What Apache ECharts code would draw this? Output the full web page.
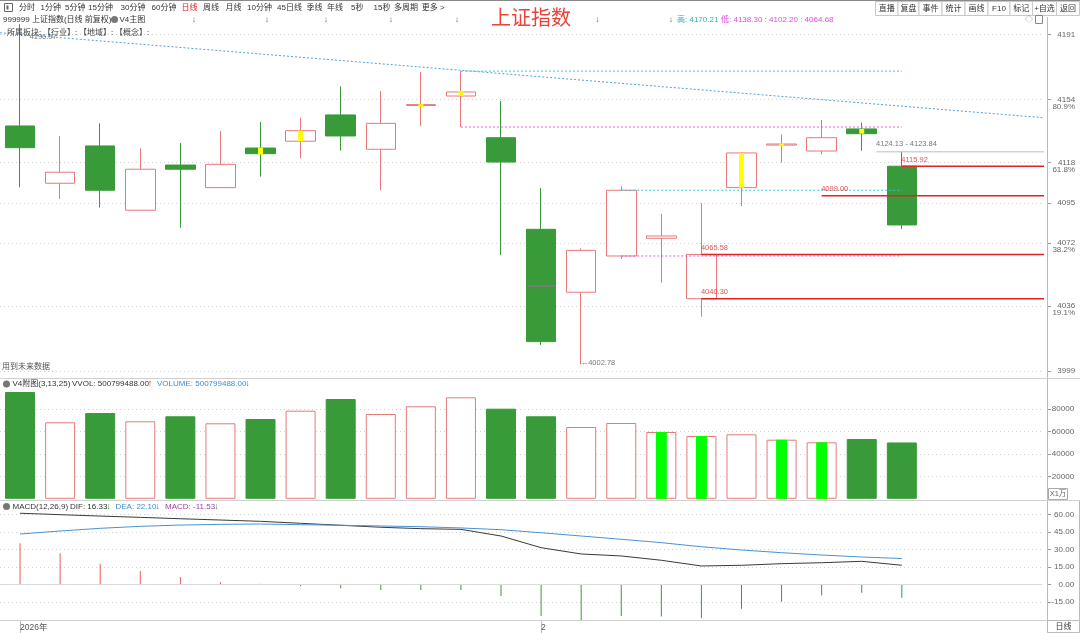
<!DOCTYPE html>
<html>
<head>
<meta charset="utf-8">
<title>上证指数</title>
<script src="https://cdn.jsdelivr.net/npm/echarts@6.0.0/dist/echarts.min.js"></script>
<style>
  html, body { margin: 0; padding: 0; background: #fff; }
  #chart { width: 1080px; height: 633px; }
</style>
</head>
<body>
<div id="chart"></div>
<script>
// ---- data ----
// 26 slots on the time axis, the last three are empty
const bottomLabels = ['2026年', '', '', '', '', '', '', '', '', '', '', '', '', '2', '', '', '', '', '', '', '', '', '', '', '', ''];

// [open, close, low, high]
const ohlc = [
  [4138.9, 4126.5, 4103.9, 4196.97],
  [4106.2, 4112.5, 4097.2, 4133.2],
  [4127.5, 4102.2, 4092.3, 4140.4],
  [4090.8, 4114.2, 4090.6, 4126.1],
  [4116.6, 4114.2, 4080.8, 4129.2],
  [4103.7, 4117.0, 4103.5, 4135.9],
  [4126.3, 4123.1, 4110.0, 4141.2],
  [4130.2, 4136.2, 4120.5, 4143.6],
  [4145.2, 4133.2, 4124.8, 4161.5],
  [4125.6, 4140.4, 4102.2, 4158.9],
  [4150.6, 4151.1, 4138.9, 4169.8],
  [4156.0, 4158.3, 4138.30, 4170.21],
  [4132.2, 4118.3, 4065.3, 4153.2],
  [4079.9, 4015.8, 4013.9, 4103.5],
  [4044.0, 4067.9, 4002.78, 4069.1],
  [4064.68, 4102.20, 4063.0, 4104.5],
  [4074.8, 4076.1, 4049.4, 4088.7],
  [4040.30, 4065.58, 4030.0, 4094.8],
  [4103.7, 4123.5, 4093.2, 4123.8],
  [4128.0, 4128.6, 4118.0, 4134.1],
  [4124.6, 4132.2, 4122.7, 4142.3],
  [4137.2, 4134.5, 4124.8, 4140.8],
  [4115.92, 4082.4, 4080.1, 4124.13]
];

// yellow signal marks inside candles: [slot, low, high]
const signalMarks = [
  [6, 4122.6, 4126.6],
  [7, 4130.2, 4136.2],
  [10, 4150.3, 4151.4],
  [11, 4156.0, 4158.8],
  [18, 4103.7, 4123.5],
  [19, 4127.8, 4128.9],
  [21, 4134.5, 4137.2]
];
const midMarks = [[13, 4047.6]];

// volume in units of 万
const volume = [94930, 68000, 76270, 68890, 73330, 67110, 70930, 78310, 88710, 75380, 82220, 90220,
  80090, 73330, 63820, 67380, 59380, 55820, 57330, 52530, 50220, 53160, 50080];
const vvolMarks = ['-', '-', '-', '-', '-', '-', '-', '-', '-', '-', '-', '-',
  '-', '-', '-', '-', 59380, 55820, '-', 52530, 50220, '-', '-'];

// MACD(12,26,9)
const dif = [60.9, 59.7, 58.5, 57.4, 56.2, 55.1, 54.0, 52.3, 50.6, 48.9, 47.7, 47.1,
  41.4, 31.4, 26.0, 24.3, 20.6, 15.7, 16.3, 17.7, 18.5, 19.7, 16.33];
const dea = [43.1, 45.7, 48.0, 49.7, 50.8, 51.4, 51.7, 51.1, 50.6, 50.0, 49.4, 48.3,
  46.8, 44.2, 41.4, 38.6, 35.7, 32.2, 29.4, 27.1, 25.1, 23.4, 22.10];
const macdHist = [35.1, 26.6, 17.4, 11.4, 6.3, 2.0, 0.5, -1.7, -3.4, -4.9, -4.9, -4.9,
  -10.0, -27.2, -30.6, -27.2, -27.7, -28.9, -20.9, -14.9, -9.7, -7.2, -11.53];

// axis ticks
const priceTicks = [3999, 4036, 4072, 4095, 4118, 4154, 4191];
const fibLevels = [4036, 4072, 4118, 4154];
const fibPct = ['19.1%', '38.2%', '61.8%', '80.9%'];
const volTicks = [20000, 40000, 60000, 80000];
const macdTicks = [-15, 0, 15, 30, 45, 60];

// drawn lines on the price panel: [slot, price] pairs
const trendLine = [[-0.5, 4192.1], [25.62, 4143.45]];
const cyanLevels = [{ from: 11, to: 22, price: 4170.21 }, { from: 15, to: 22, price: 4102.20 }];
const pinkLevels = [{ from: 11, to: 22, price: 4138.30 }, { from: 15, to: 22, price: 4064.68 }];
const redLevels = [
  { from: 22, price: 4115.92 },
  { from: 20, price: 4099.00 },
  { from: 17, price: 4065.58 },
  { from: 17, price: 4040.30 }
];
const grayLevel = { from: 21.37, price: 4124.13 };
const lineEnd = 25.62;

const priceNotes = [
  { at: 0, price: 4196.97, text: '4196.97', kind: 'gray', pos: [10, 9] },
  { at: 14, price: 4002.78, text: '←4002.78', kind: 'gray', pos: [0, -5] },
  { at: 21.37, price: 4124.13, text: '4124.13 - 4123.84', kind: 'gray', pos: [0, -11] },
  { at: 22, price: 4115.92, text: '4115.92', kind: 'red', pos: [0, -10] },
  { at: 20, price: 4099.00, text: '4099.00', kind: 'red', pos: [0, -10] },
  { at: 17, price: 4065.58, text: '4065.58', kind: 'red', pos: [0, -10] },
  { at: 17, price: 4040.30, text: '4040.30', kind: 'red', pos: [0, -10] }
];

const toolbarItems = ['分时', '1分钟', '5分钟', '15分钟', '30分钟', '60分钟', '日线', '周线', '月线', '10分钟', '45日线', '季线', '年线', '5秒', '15秒', '多周期', '更多 >'];
const toolbarButtons = ['直播', '复盘', '事件', '统计', '画线', 'F10', '标记', '+自选', '返回'];

// ---- styling / layout ----
const GREEN = '#389a38';
const RED = '#e8787a';
const LINE_RED = '#e02424';
const NUM_FONT = '"Liberation Sans", "Noto Sans CJK SC", sans-serif';
const CJK_FONT = '"Noto Sans CJK SC", "Liberation Sans", sans-serif';

const toolbarX = [19, 40.6, 65, 88, 120.5, 151.5, 181.5, 203, 225.5, 247, 277, 306.5, 327, 351, 373.6, 394, 421.8];
const buttonEdges = [875.5, 898, 919, 942, 965, 988, 1010, 1032.5, 1056.5, 1079.5];
const arrowX = [194, 267, 326, 391, 457, 597.5, 671];

const cats = bottomLabels.map((_, i) => String(i));

function txt(x, y, text, fill, font, align) {
  return {
    type: 'text', x: x, y: y, silent: true, z: 100,
    style: {
      text: text, fill: fill, font: font,
      textAlign: align || 'left', textVerticalAlign: 'middle',
      align: align || 'left', verticalAlign: 'middle'
    }
  };
}
function hline(x1, x2, y, color, w) {
  return { type: 'line', silent: true, z: 90, shape: { x1: x1, y1: y, x2: x2, y2: y }, style: { stroke: color, lineWidth: w || 1 } };
}
function vline(x, y1, y2, color) {
  return { type: 'line', silent: true, z: 90, shape: { x1: x, y1: y1, x2: x, y2: y2 }, style: { stroke: color, lineWidth: 1 } };
}

const graphics = [];
// top toolbar
graphics.push(hline(0, 1080, 0.5, '#8a8a8a'));
graphics.push({ type: 'rect', silent: true, z: 90, shape: { x: 4.5, y: 3.5, width: 8, height: 8 }, style: { fill: '#fff', stroke: '#666' } });
graphics.push({ type: 'rect', silent: true, z: 91, shape: { x: 6.5, y: 5.5, width: 2, height: 4 }, style: { fill: '#666' } });
toolbarItems.forEach((t, i) => {
  graphics.push(txt(toolbarX[i], 8, t, t === '日线' ? '#e02020' : '#333', '8px ' + NUM_FONT));
});
toolbarButtons.forEach((t, i) => {
  const x1 = buttonEdges[i], x2 = buttonEdges[i + 1];
  graphics.push({ type: 'rect', silent: true, z: 90, shape: { x: x1, y: 1.5, width: x2 - x1, height: 14 }, style: { fill: '#fff', stroke: '#c8c8c8' } });
  graphics.push(txt((x1 + x2) / 2, 8.5, t, '#333', '8px ' + NUM_FONT, 'center'));
});
graphics.push(txt(491, 17, '上证指数', '#e8443a', '20px ' + CJK_FONT));

// second row
graphics.push(txt(3, 19.5, '999999 上证指数(日线 前复权)', '#333', '8px ' + NUM_FONT));
graphics.push({ type: 'circle', silent: true, z: 90, shape: { cx: 114.5, cy: 19.5, r: 3.5 }, style: { fill: '#777' } });
graphics.push(txt(119.5, 19.5, 'V4主图', '#333', '8px ' + NUM_FONT));
arrowX.forEach(x => graphics.push(txt(x, 19.5, '↓', '#2a9a2a', '9px ' + NUM_FONT, 'center')));
graphics.push(txt(677, 19.5, '高: 4170.21', '#2fb3b8', '8px ' + NUM_FONT));
graphics.push(txt(721, 19.5, '低: 4138.30 : 4102.20 : 4064.68', '#e04ce0', '8px ' + NUM_FONT));
graphics.push(txt(1029, 19.5, '◇', '#888', '8px ' + NUM_FONT, 'center'));
graphics.push({ type: 'rect', silent: true, z: 90, shape: { x: 1035.5, y: 15.5, width: 7, height: 8 }, style: { fill: '#fff', stroke: '#888' } });

// third row and notes
graphics.push(txt(7, 32, '所属板块: 【行业】: 【地域】: 【概念】:', '#444', '8px ' + CJK_FONT));
graphics.push(txt(2, 366, '用到未来数据', '#555', '8px ' + CJK_FONT));

// panel frames
graphics.push(vline(1047.5, 17, 633, '#bbb'));
graphics.push(vline(1079.5, 500, 633, '#bbb'));
graphics.push(hline(0, 1080, 378.5, '#d0d0d0'));
graphics.push(hline(0, 1080, 500.5, '#d0d0d0'));
graphics.push(hline(0, 1080, 620.5, '#d0d0d0'));

// volume header
graphics.push({ type: 'circle', silent: true, z: 90, shape: { cx: 6.5, cy: 384, r: 3.5 }, style: { fill: '#777' } });
graphics.push(txt(12.5, 384, 'V4附图(3,13,25)', '#333', '8px ' + NUM_FONT));
graphics.push(txt(72, 384, 'VVOL: 500799488.00', '#333', '8px ' + NUM_FONT));
graphics.push(txt(150, 384, '↑', '#e02020', '9px ' + NUM_FONT, 'center'));
graphics.push(txt(157, 384, 'VOLUME: 500799488.00', '#3b8ed4', '8px ' + NUM_FONT));
graphics.push(txt(247.5, 384, '↓', '#2a9a2a', '9px ' + NUM_FONT, 'center'));
graphics.push({ type: 'rect', silent: true, z: 90, shape: { x: 1048.5, y: 488.5, width: 19, height: 11 }, style: { fill: '#fff', stroke: '#aaa' } });
graphics.push(txt(1058, 494, 'X1万', '#666', '7.5px ' + NUM_FONT, 'center'));

// macd header
graphics.push({ type: 'circle', silent: true, z: 90, shape: { cx: 6.5, cy: 506.5, r: 3.5 }, style: { fill: '#777' } });
graphics.push(txt(12.5, 506.5, 'MACD(12,26,9)', '#333', '8px ' + NUM_FONT));
graphics.push(txt(70, 506.5, 'DIF: 16.33', '#333', '8px ' + NUM_FONT));
graphics.push(txt(108.5, 506.5, '↓', '#2a9a2a', '9px ' + NUM_FONT, 'center'));
graphics.push(txt(115.5, 506.5, 'DEA: 22.10', '#3b8ed4', '8px ' + NUM_FONT));
graphics.push(txt(157.5, 506.5, '↓', '#2a9a2a', '9px ' + NUM_FONT, 'center'));
graphics.push(txt(165, 506.5, 'MACD: -11.53', '#a23cb0', '8px ' + NUM_FONT));
graphics.push(txt(216.5, 506.5, '↓', '#2a9a2a', '9px ' + NUM_FONT, 'center'));

// bottom-right period box
graphics.push({ type: 'rect', silent: true, z: 90, shape: { x: 1047.5, y: 620.5, width: 32, height: 12 }, style: { fill: '#fff', stroke: '#bbb' } });
graphics.push(txt(1063.5, 627, '日线', '#333', '8px ' + NUM_FONT, 'center'));

// grids: slot width 40.2px, first slot centre at x=17
const GRID_LEFT = -3.1, GRID_W = 40.2 * 26;

const rightLabel = {
  color: '#666', fontSize: 8, fontFamily: NUM_FONT, align: 'right', margin: 28,
  formatter: (v) => String(v)
};
const tickStyle = { show: true, length: 4, lineStyle: { color: '#999' } };
const dotted = { show: true, lineStyle: { color: '#cfcfcf', type: [1, 3], width: 1 } };
const noLine = { show: false, onZero: false };

function levelSeries(from, to, price, color, type, width) {
  return {
    type: 'line', xAxisIndex: 1, yAxisIndex: 0, clip: false, silent: true,
    symbol: 'none', showSymbol: false, z: 5,
    data: [[from, price], [to, price]],
    lineStyle: { color: color, width: width || 1, type: type }
  };
}

const series = [
  {
    type: 'candlestick', xAxisIndex: 0, yAxisIndex: 0, barWidth: 30, data: ohlc,
    itemStyle: { color: '#ffffff', color0: GREEN, borderColor: RED, borderColor0: GREEN, borderWidth: 1 }
  },
  {
    type: 'custom', xAxisIndex: 1, yAxisIndex: 0, silent: true, z: 4, data: signalMarks,
    renderItem: function (params, api) {
      const top = api.coord([api.value(0), api.value(2)]);
      const bot = api.coord([api.value(0), api.value(1)]);
      return { type: 'rect', shape: { x: top[0] - 2.5, y: top[1], width: 5, height: Math.max(bot[1] - top[1], 3) }, style: { fill: '#ffff00' } };
    }
  },
  {
    type: 'custom', xAxisIndex: 1, yAxisIndex: 0, silent: true, z: 4, data: midMarks,
    renderItem: function (params, api) {
      const p = api.coord([api.value(0), api.value(1)]);
      return { type: 'rect', shape: { x: p[0] - 14, y: p[1] - 1, width: 28, height: 2 }, style: { fill: '#7a7a7a' } };
    }
  },
  {
    type: 'line', xAxisIndex: 1, yAxisIndex: 0, clip: false, silent: true, symbol: 'none', z: 5,
    data: trendLine, lineStyle: { color: '#4f9fe0', width: 1, type: [2, 2] }
  }
];
cyanLevels.forEach(l => series.push(levelSeries(l.from, l.to, l.price, '#3cc4d4', [2, 2])));
pinkLevels.forEach(l => series.push(levelSeries(l.from, l.to, l.price, '#e25ee2', [2, 2])));
redLevels.forEach(l => series.push(levelSeries(l.from, lineEnd, l.price, LINE_RED, 'solid', 1.5)));
series.push(levelSeries(grayLevel.from, lineEnd, grayLevel.price, '#bdbdbd', 'solid', 1));
series.push({
  type: 'scatter', xAxisIndex: 1, yAxisIndex: 0, silent: true, symbolSize: 1, z: 6,
  itemStyle: { color: 'rgba(0,0,0,0)' },
  data: priceNotes.map(n => ({
    value: [n.at, n.price],
    label: {
      show: true, formatter: n.text, position: n.pos,
      color: n.kind === 'red' ? '#e02424' : '#555', fontSize: 7.5, fontFamily: NUM_FONT
    }
  }))
});
// volume
series.push({
  type: 'bar', xAxisIndex: 2, yAxisIndex: 2, barWidth: 30, silent: true,
  data: volume.map((v, i) => ({
    value: v,
    itemStyle: ohlc[i][1] < ohlc[i][0]
      ? { color: GREEN, borderColor: GREEN, borderWidth: 1 }
      : { color: '#ffffff', borderColor: RED, borderWidth: 1 }
  }))
});
series.push({
  type: 'bar', xAxisIndex: 3, yAxisIndex: 2, barWidth: 11, silent: true,
  data: vvolMarks, itemStyle: { color: '#00ff00' }
});
// macd
series.push({
  type: 'bar', xAxisIndex: 4, yAxisIndex: 3, barWidth: 1, silent: true,
  data: macdHist.map(v => ({ value: v, itemStyle: { color: v >= 0 ? '#e85a5a' : '#3a9a3a' } })),
  markLine: {
    silent: true, symbol: 'none', label: { show: false },
    lineStyle: { color: '#dadada', type: 'solid', width: 1 },
    data: [{ yAxis: 0 }]
  }
});
series.push({
  type: 'line', xAxisIndex: 4, yAxisIndex: 3, symbol: 'none', silent: true, data: dif,
  lineStyle: { color: '#3a3a3a', width: 1 }
});
series.push({
  type: 'line', xAxisIndex: 4, yAxisIndex: 3, symbol: 'none', silent: true, data: dea,
  lineStyle: { color: '#4a92d4', width: 1 }
});

const hiddenCat = (g) => ({ gridIndex: g, type: 'category', data: cats, boundaryGap: true, show: false, axisLine: noLine });

const option = {
  animation: false,
  backgroundColor: '#ffffff',
  grid: [
    { left: GRID_LEFT, width: GRID_W, top: 22, height: 355 },
    { left: GRID_LEFT, width: GRID_W, top: 389, height: 109.8 },
    { left: GRID_LEFT, width: GRID_W, top: 503, height: 117 }
  ],
  xAxis: [
    hiddenCat(0),
    { gridIndex: 0, type: 'value', min: -0.5, max: 25.5, show: false, axisLine: noLine },
    hiddenCat(1),
    hiddenCat(1),
    {
      gridIndex: 2, type: 'category', data: cats, boundaryGap: true, position: 'bottom',
      axisLine: { show: true, onZero: false, lineStyle: { color: '#c8c8c8' } },
      axisTick: { show: true, alignWithLabel: true, length: 13, interval: (i) => bottomLabels[i] !== '', lineStyle: { color: '#bbb' } },
      axisLabel: {
        show: true, interval: (i) => bottomLabels[i] !== '', formatter: (v, i) => bottomLabels[i],
        align: 'left', margin: 3, color: '#555', fontSize: 8.5, fontFamily: NUM_FONT
      },
      splitLine: { show: false }
    }
  ],
  yAxis: [
    {
      gridIndex: 0, type: 'value', position: 'right', offset: 5, min: 3995.6, max: 4198.25,
      axisLine: noLine,
      axisTick: Object.assign({ customValues: priceTicks }, tickStyle),
      axisLabel: Object.assign({ customValues: priceTicks }, rightLabel),
      splitLine: dotted
    },
    {
      gridIndex: 0, type: 'value', position: 'right', offset: 5, min: 3995.6, max: 4198.25,
      axisLine: noLine, axisTick: { show: false }, splitLine: { show: false },
      axisLabel: Object.assign({}, rightLabel, {
        customValues: fibLevels, verticalAlign: 'top', padding: [3, 0, 0, 0],
        formatter: (v) => fibPct[fibLevels.indexOf(v)]
      })
    },
    {
      gridIndex: 1, type: 'value', position: 'right', offset: 5, min: 0, max: 97600,
      axisLine: noLine,
      axisTick: Object.assign({ customValues: volTicks }, tickStyle),
      axisLabel: Object.assign({ customValues: volTicks }, rightLabel, { margin: 27 }),
      splitLine: dotted
    },
    {
      gridIndex: 2, type: 'value', position: 'right', offset: 5, min: -30.6, max: 69.7,
      axisLine: noLine,
      axisTick: Object.assign({ customValues: macdTicks }, tickStyle),
      axisLabel: Object.assign({ customValues: macdTicks }, rightLabel, { margin: 27, formatter: (v) => v.toFixed(2) }),
      splitLine: dotted
    }
  ],
  graphic: graphics,
  series: series
};

const myChart = echarts.init(document.getElementById('chart'), null, { renderer: 'canvas' });
myChart.setOption(option);
</script>
</body>
</html>
